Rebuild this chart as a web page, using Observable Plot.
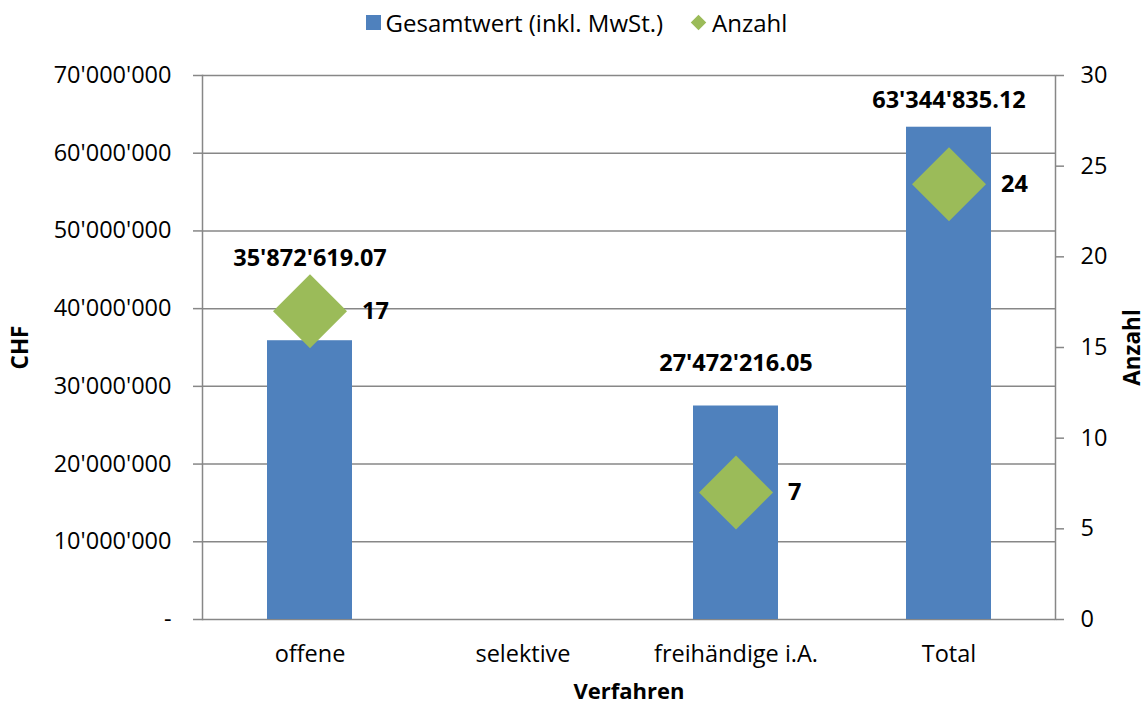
<!DOCTYPE html>
<html>
<head>
<meta charset="utf-8">
<script src="https://cdn.jsdelivr.net/npm/d3@7"></script>
<script src="https://cdn.jsdelivr.net/npm/@observablehq/plot@0.6"></script>
<style>
  html, body { margin: 0; padding: 0; background: #fff; }
  body { width: 1147px; height: 706px; overflow: hidden; font-family: "Open Sans", sans-serif; }
  #legend { height: 44px; display: flex; justify-content: center; align-items: center; font-size: 24px; color: #000; padding-left: 6px; box-sizing: border-box; }
  #legend .item { display: flex; align-items: center; }
  #legend .sq { width: 15px; height: 15px; background: #4F81BD; margin-right: 5px; }
  #legend .dm { width: 11px; height: 11px; background: #9BBB59; transform: rotate(45deg); margin-right: 8px; margin-left: 30px; }
</style>
</head>
<body>
<div id="legend">
  <div class="item"><div class="sq"></div><span>Gesamtwert (inkl. MwSt.)</span></div>
  <div class="item"><div class="dm"></div><span>Anzahl</span></div>
</div>
<div id="chart"></div>
<script>
const categories = ["offene", "selektive", "freihändige i.A.", "Total"];
const totals = [35872619.07, null, 27472216.05, 63344835.12];
const counts = [17, null, 7, 24];
const totalLabels = ["35'872'619.07", "", "27'472'216.05", "63'344'835.12"];
const leftTicks = [0, 10000000, 20000000, 30000000, 40000000, 50000000, 60000000, 70000000];
const rightTicks = [0, 5, 10, 15, 20, 25, 30];

const leftMax = 70000000, rightMax = 30;
const k = leftMax / rightMax;

const rows = categories.map((c, i) => ({cat: c, total: totals[i], count: counts[i], label: totalLabels[i]}));
const barRows = rows.filter(d => d.total != null);
const countRows = rows.filter(d => d.count != null);

const fmt = d => d === 0 ? "-" : d3.format(",")(d).replace(/,/g, "'");

const diamond = {
  draw(ctx, size) {
    const r = Math.sqrt(size / Math.PI);
    ctx.moveTo(0, -r); ctx.lineTo(r, 0); ctx.lineTo(0, r); ctx.lineTo(-r, 0); ctx.closePath();
  }
};

// label lift (pixels above bar top), style only
const lift = {"offene": 82, "freihändige i.A.": 43, "Total": 27};

const gridColor = "#878787";
const fs = 23.5;

const chart = Plot.plot({
  width: 1147,
  height: 662,
  marginTop: 31,
  marginBottom: 87,
  marginLeft: 202,
  marginRight: 92,
  style: {fontFamily: "Open Sans, sans-serif", fontSize: fs + "px", color: "#000", background: "#fff"},
  x: {domain: categories, padding: 0, label: null},
  y: {domain: [0, leftMax], label: null},
  marks: [
    Plot.gridY(leftTicks, {stroke: gridColor, strokeOpacity: 1, strokeWidth: 1.5}),
    Plot.frame({anchor: "left", stroke: gridColor, strokeWidth: 1.5}),
    Plot.frame({anchor: "right", stroke: gridColor, strokeWidth: 1.5}),
    Plot.axisY({ticks: leftTicks, tickFormat: fmt, tickSize: 9, tickPadding: 22, stroke: gridColor, strokeWidth: 1.5, fontSize: fs, label: null}),
    Plot.axisY({anchor: "right", ticks: rightTicks.map(v => v * k), tickFormat: d => String(Math.round(d / k)), tickSize: 8, tickPadding: 17, stroke: gridColor, strokeWidth: 1.5, fontSize: fs, label: null}),
    Plot.axisX({tickSize: 0, tickPadding: 26, fontSize: fs, label: null}),
    Plot.barY(barRows, {x: "cat", y: "total", fill: "#4F81BD", insetLeft: 64, insetRight: 64}),
    Plot.dot(countRows, {x: "cat", y: d => d.count * k, symbol: diamond, r: 37, fill: "#9BBB59", stroke: null}),
    ...barRows.map(d => Plot.text([d], {x: "cat", y: "total", text: "label", dy: -lift[d.cat], fontWeight: "bold", fontSize: fs})),
    Plot.text(countRows, {x: "cat", y: d => d.count * k, text: d => String(d.count), dx: 52, textAnchor: "start", fontWeight: "bold", fontSize: fs}),
    Plot.text(["CHF"], {frameAnchor: "left", dx: -182, rotate: -90, textAnchor: "middle", lineAnchor: "middle", fontWeight: "bold", fontSize: 22.5}),
    Plot.text(["Anzahl"], {frameAnchor: "right", dx: 77, rotate: -90, textAnchor: "middle", lineAnchor: "middle", fontWeight: "bold", fontSize: 22.5}),
    Plot.text(["Verfahren"], {frameAnchor: "bottom", dy: 72, textAnchor: "middle", lineAnchor: "middle", fontWeight: "bold", fontSize: 22})
  ]
});
document.getElementById("chart").appendChild(chart);
</script>
</body>
</html>
